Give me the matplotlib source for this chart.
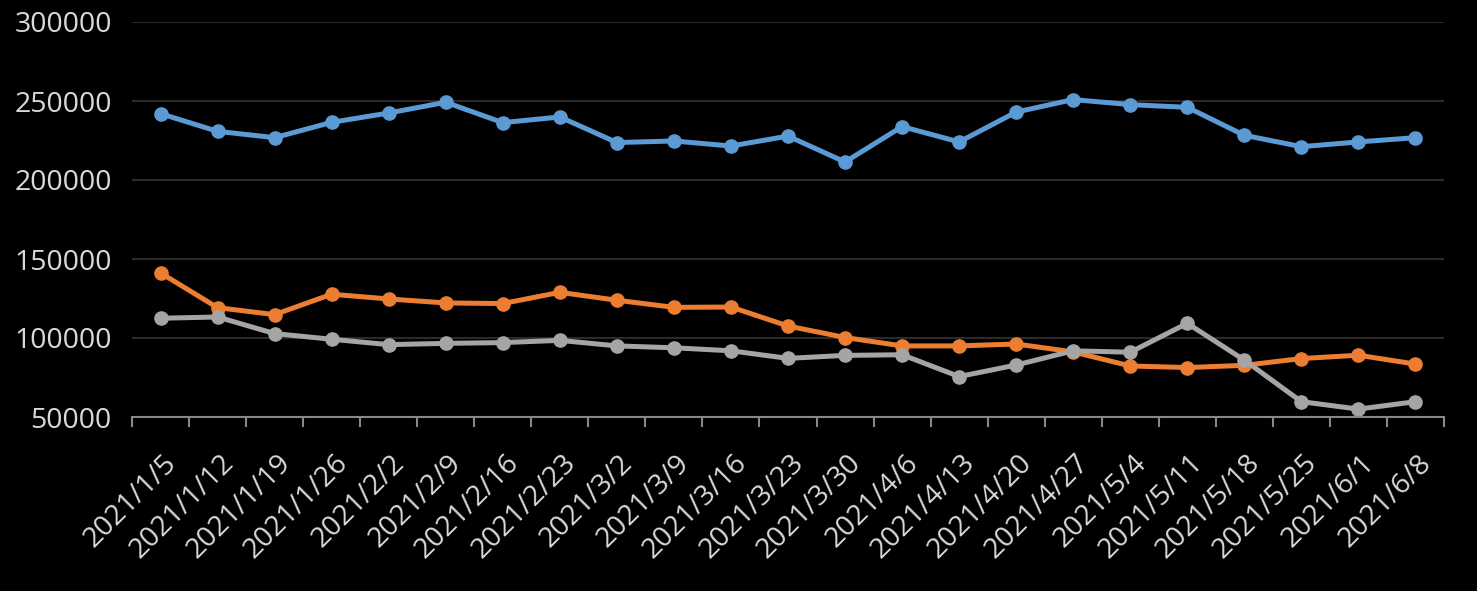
import matplotlib.pyplot as plt
import matplotlib.transforms as mtransforms
from matplotlib.ticker import FixedLocator

# categories (weekly dates)
dates = ['2021/1/5', '2021/1/12', '2021/1/19', '2021/1/26', '2021/2/2', '2021/2/9',
         '2021/2/16', '2021/2/23', '2021/3/2', '2021/3/9', '2021/3/16', '2021/3/23',
         '2021/3/30', '2021/4/6', '2021/4/13', '2021/4/20', '2021/4/27', '2021/5/4',
         '2021/5/11', '2021/5/18', '2021/5/25', '2021/6/1', '2021/6/8']

# series values
blue = [242000, 230800, 226800, 236500, 242400, 249200, 236300, 239900, 223700,
        224700, 221500, 227800, 211400, 233800, 224100, 243000, 250900, 247700,
        246000, 228300, 221100, 224100, 226800]
orange = [141200, 119200, 114800, 127700, 124700, 122200, 121800, 128900, 123900,
          119400, 119600, 107600, 100300, 95000, 95000, 96200, 91200, 82300,
          81300, 82700, 87000, 89100, 83500]
gray = [112500, 113300, 102800, 99200, 95800, 96600, 97100, 98500, 95000,
        93800, 91900, 87100, 89000, 89400, 75600, 82900, 91900, 91000,
        109300, 86000, 59700, 55000, 59700]

yticks = [50000, 100000, 150000, 200000, 250000, 300000]

plt.rcParams['font.family'] = ['Open Sans', 'DejaVu Sans']

fig = plt.figure(figsize=(14.77, 5.91), dpi=100)
fig.patch.set_facecolor('black')
ax = fig.add_axes([132/1477, 1-417/591, (1444-132)/1477, (417-22)/591])
ax.set_facecolor('black')

x = list(range(len(dates)))
for vals, col in [(blue, '#5B9BD5'), (orange, '#ED7D31'), (gray, '#A5A5A5')]:
	ax.plot(x, vals, color=col, lw=3.6, marker='o', ms=9.5,
	        markerfacecolor=col, markeredgecolor=col, solid_capstyle='round')

ax.set_xlim(-0.5, len(dates)-0.5)
ax.set_ylim(50000, 300000)

# horizontal grid
ax.set_yticks(yticks)
ax.set_yticklabels([str(v) for v in yticks])
ax.grid(axis='y', color='#2a2a2a', lw=1.5)
ax.set_axisbelow(True)
ax.tick_params(axis='y', length=0, pad=14.5, labelsize=20.5, labelcolor='#d9d9d9')

# category labels centred, tick marks at the boundaries
ax.set_xticks(x)
ax.set_xticklabels(dates, rotation=45, ha='right', va='center', rotation_mode='anchor')
ax.xaxis.set_minor_locator(FixedLocator([i-0.5 for i in range(len(dates)+1)]))
ax.tick_params(axis='x', which='major', length=0, pad=28, labelsize=20.5, labelcolor='#d9d9d9')
ax.tick_params(axis='x', which='minor', length=7.5, width=1.5, color='#888888', direction='out')
shift = mtransforms.ScaledTranslation(0.12, -0.03, fig.dpi_scale_trans)
for lab in ax.get_xticklabels():
	lab.set_transform(lab.get_transform() + shift)

for s in ['top', 'right', 'left']:
	ax.spines[s].set_visible(False)
ax.spines['bottom'].set_color('#888888')
ax.spines['bottom'].set_linewidth(1.5)

fig.savefig('out.png', dpi=100, facecolor='black')
